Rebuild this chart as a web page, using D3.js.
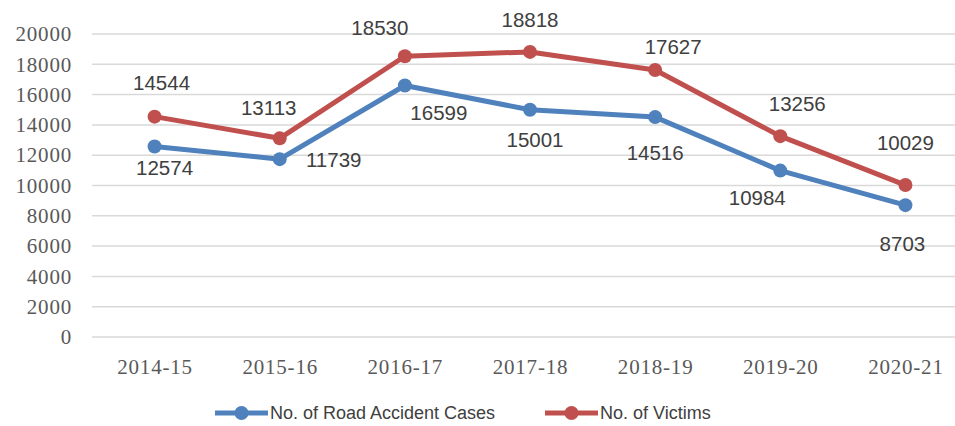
<!DOCTYPE html>
<html>
<head>
<meta charset="utf-8">
<script src="https://cdn.jsdelivr.net/npm/d3@7"></script>
<style>
  html, body { margin: 0; padding: 0; background: #fff; }
  svg { display: block; }
</style>
</head>
<body>
<svg id="chart" width="955" height="426"></svg>
<script>
// ---- data ----
const categories = ["2014-15", "2015-16", "2016-17", "2017-18", "2018-19", "2019-20", "2020-21"];
const roadAccidentCases = [12574, 11739, 16599, 15001, 14516, 10984, 8703];
const victims = [14544, 13113, 18530, 18818, 17627, 13256, 10029];
const yTicks = [0, 2000, 4000, 6000, 8000, 10000, 12000, 14000, 16000, 18000, 20000];
const seriesNames = ["No. of Road Accident Cases", "No. of Victims"];

// ---- layout (label offsets from points) ----
const casesLabelOffsets = [[10, 21], [54, 0], [34, 27], [5, 30], [0, 35], [-23, 27], [-3, 38]];
const victimsLabelOffsets = [[7, -34], [-11, -31], [-25, -29], [0, -32], [18, -23], [17, -33], [0, -43]];

const colors = ["#4f81bd", "#c0504d"];
const svg = d3.select("#chart");

const x = d3.scalePoint().domain(categories).range([92, 968]).padding(0.5);
const y = d3.scaleLinear().domain([0, 20000]).range([337, 34]);

// gridlines
svg.append("g").selectAll("line").data(yTicks).join("line")
  .attr("x1", 92).attr("x2", 968)
  .attr("y1", d => y(d)).attr("y2", d => y(d))
  .attr("stroke", "#d9d9d9").attr("stroke-width", 1.5);

// y axis labels
const yAxis = d3.axisLeft(y).tickValues(yTicks).tickSize(0).tickPadding(20).tickFormat(d => String(d));
const gy = svg.append("g").attr("transform", "translate(92,0)").call(yAxis);
gy.select(".domain").remove();
gy.selectAll("text")
  .attr("fill", "#595959")
  .style("font-family", "'Liberation Serif', 'Times New Roman', serif")
  .style("font-size", "21px")
  .style("letter-spacing", "0.8px");

// x axis labels
const xAxis = d3.axisBottom(x).tickSize(0).tickPadding(0);
const gx = svg.append("g").attr("transform", "translate(0,337)").call(xAxis);
gx.select(".domain").remove();
gx.selectAll("text")
  .attr("fill", "#595959")
  .attr("y", 30).attr("dy", "0.35em")
  .style("font-family", "'Liberation Serif', 'Times New Roman', serif")
  .style("font-size", "21px")
  .style("letter-spacing", "0.8px");

const series = [
  { values: roadAccidentCases, offsets: casesLabelOffsets, color: colors[0] },
  { values: victims, offsets: victimsLabelOffsets, color: colors[1] }
];

const line = d3.line().x((d, i) => x(categories[i])).y(d => y(d));

series.forEach(s => {
  const g = svg.append("g");
  g.append("path").datum(s.values)
    .attr("d", line)
    .attr("fill", "none")
    .attr("stroke", s.color)
    .attr("stroke-width", 5)
    .attr("stroke-linejoin", "round")
    .attr("stroke-linecap", "round");
  g.selectAll("circle").data(s.values).join("circle")
    .attr("cx", (d, i) => x(categories[i]))
    .attr("cy", d => y(d))
    .attr("r", 7)
    .attr("fill", s.color);
});

series.forEach(s => {
  svg.append("g").selectAll("text").data(s.values).join("text")
    .attr("x", (d, i) => x(categories[i]) + s.offsets[i][0])
    .attr("y", (d, i) => y(d) + s.offsets[i][1])
    .attr("text-anchor", "middle")
    .attr("dominant-baseline", "central")
    .attr("fill", "#404040")
    .style("font-family", "'Liberation Sans', Arial, sans-serif")
    .style("font-size", "20.5px")
    .text(d => d);
});

// legend
const legendItems = [
  { name: seriesNames[0], color: colors[0], x0: 215 },
  { name: seriesNames[1], color: colors[1], x0: 545 }
];
const lg = svg.append("g");
legendItems.forEach(it => {
  const ly = 413;
  lg.append("line")
    .attr("x1", it.x0).attr("x2", it.x0 + 53)
    .attr("y1", ly).attr("y2", ly)
    .attr("stroke", it.color).attr("stroke-width", 5);
  lg.append("circle")
    .attr("cx", it.x0 + 26.5).attr("cy", ly).attr("r", 7)
    .attr("fill", it.color);
  lg.append("text")
    .attr("x", it.x0 + 55).attr("y", ly)
    .attr("dominant-baseline", "central")
    .attr("fill", "#404040")
    .style("font-family", "'Liberation Sans', Arial, sans-serif")
    .style("font-size", "18px")
    .text(it.name);
});
</script>
</body>
</html>
